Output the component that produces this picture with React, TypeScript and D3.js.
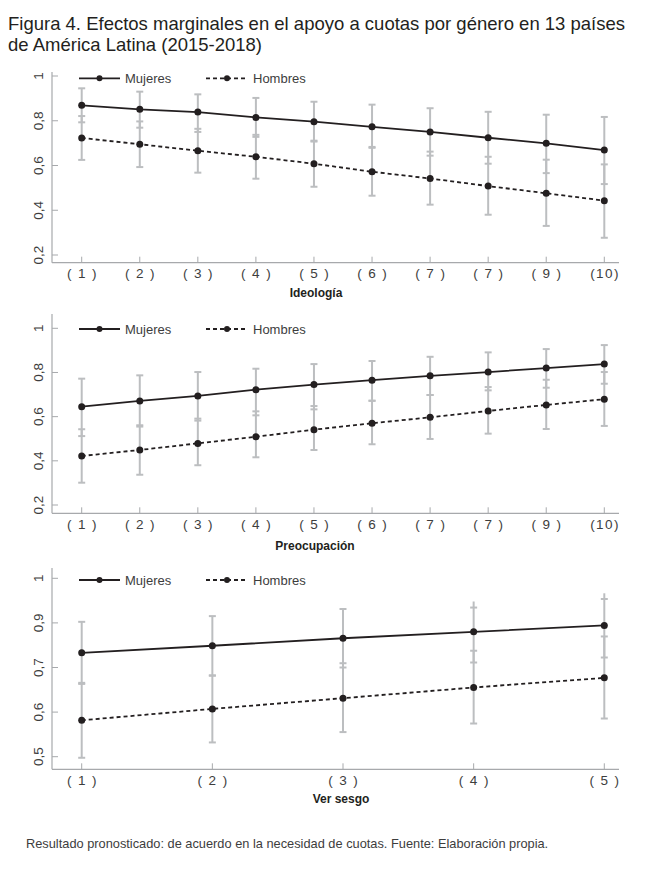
import React from "react";
import * as d3 from "d3";

// ---------- DATA ----------
const ideologiaLabels = ["( 1 )", "( 2 )", "( 3 )", "( 4 )", "( 5 )", "( 6 )", "( 7 )", "( 7 )", "( 9 )", "(10)"];
const ideologiaMujeres = [0.869, 0.851, 0.839, 0.815, 0.796, 0.773, 0.75, 0.724, 0.699, 0.669];
const ideologiaMujeresLo = [0.793, 0.769, 0.75, 0.728, 0.707, 0.679, 0.644, 0.608, 0.566, 0.517];
const ideologiaMujeresHi = [0.945, 0.93, 0.918, 0.902, 0.885, 0.872, 0.856, 0.84, 0.827, 0.817];
const ideologiaHombres = [0.723, 0.695, 0.666, 0.639, 0.608, 0.572, 0.542, 0.508, 0.476, 0.443];
const ideologiaHombresLo = [0.625, 0.593, 0.568, 0.541, 0.505, 0.465, 0.425, 0.38, 0.33, 0.277];
const ideologiaHombresHi = [0.821, 0.797, 0.764, 0.737, 0.711, 0.683, 0.662, 0.639, 0.626, 0.605];

const preocLabels = ["( 1 )", "( 2 )", "( 3 )", "( 4 )", "( 5 )", "( 6 )", "( 7 )", "( 7 )", "( 9 )", "(10)"];
const preocMujeres = [0.645, 0.671, 0.694, 0.722, 0.745, 0.765, 0.785, 0.802, 0.82, 0.838];
const preocMujeresLo = [0.512, 0.555, 0.582, 0.606, 0.633, 0.672, 0.698, 0.719, 0.731, 0.749];
const preocMujeresHi = [0.772, 0.787, 0.802, 0.817, 0.838, 0.852, 0.871, 0.891, 0.906, 0.924];
const preocHombres = [0.422, 0.449, 0.479, 0.509, 0.541, 0.57, 0.597, 0.626, 0.653, 0.679];
const preocHombresLo = [0.301, 0.337, 0.38, 0.416, 0.449, 0.475, 0.499, 0.523, 0.544, 0.558];
const preocHombresHi = [0.543, 0.561, 0.591, 0.624, 0.648, 0.672, 0.698, 0.734, 0.767, 0.802];

const sesgoLabels = ["( 1 )", "( 2 )", "( 3 )", "( 4 )", "( 5 )"];
const sesgoMujeres = [0.791, 0.811, 0.832, 0.85, 0.868];
const sesgoMujeresLo = [0.704, 0.728, 0.75, 0.764, 0.778];
const sesgoMujeresHi = [0.878, 0.894, 0.914, 0.935, 0.958];
const sesgoMujeresCapHi = [0.878, 0.894, 0.914, 0.918, 0.942];
const sesgoHombres = [0.602, 0.634, 0.664, 0.694, 0.721];
const sesgoHombresLo = [0.497, 0.54, 0.569, 0.593, 0.607];
const sesgoHombresHi = [0.707, 0.727, 0.762, 0.797, 0.837];

const yTicks12 = [0.2, 0.4, 0.6, 0.8, 1];
const yTickLabels12 = ["0,2", "0,4", "0,6", "0,8", "1"];
const yTicks3 = [0.5, 0.625, 0.75, 0.875, 1];
const yTickLabels3 = ["0,5", "0,6", "0,7", "0,9", "1"];

const titleLines = [
  "Figura 4. Efectos marginales en el apoyo a cuotas por género en 13 países",
  "de América Latina (2015-2018)",
];
const footer = "Resultado pronosticado: de acuerdo en la necesidad de cuotas. Fuente: Elaboración propia.";
const seriesNames = ["Mujeres", "Hombres"];

// ---------- STYLE / LAYOUT ----------
const FONT = "'Liberation Sans', Arial, sans-serif";
const INK = "#231f20";
const AXIS = "#a7a9ac";
const BAR = "#bcbec0";
const TXT = "#3d3d3d";

type Panel = {
  labels: string[];
  m: number[]; mLo: number[]; mHi: number[]; mCap?: number[];
  h: number[]; hLo: number[]; hHi: number[];
  yDomain: [number, number];
  yRange: [number, number];
  ticks: number[]; tickLabels: string[];
  axisY: number; axisTop: number; legendY: number;
  title: string; titleX: number; titleY: number;
};

const panels: Panel[] = [
  {
    labels: ideologiaLabels,
    m: ideologiaMujeres, mLo: ideologiaMujeresLo, mHi: ideologiaMujeresHi,
    h: ideologiaHombres, hLo: ideologiaHombresLo, hHi: ideologiaHombresHi,
    yDomain: [0.2, 1], yRange: [255, 76],
    ticks: yTicks12, tickLabels: yTickLabels12,
    axisY: 262.7, axisTop: 72, legendY: 78.3,
    title: "Ideología", titleX: 316, titleY: 297,
  },
  {
    labels: preocLabels,
    m: preocMujeres, mLo: preocMujeresLo, mHi: preocMujeresHi,
    h: preocHombres, hLo: preocHombresLo, hHi: preocHombresHi,
    yDomain: [0.2, 1], yRange: [505, 328.3],
    ticks: yTicks12, tickLabels: yTickLabels12,
    axisY: 513.3, axisTop: 314, legendY: 329,
    title: "Preocupación", titleX: 315, titleY: 550,
  },
  {
    labels: sesgoLabels,
    m: sesgoMujeres, mLo: sesgoMujeresLo, mHi: sesgoMujeresHi, mCap: sesgoMujeresCapHi,
    h: sesgoHombres, hLo: sesgoHombresLo, hHi: sesgoHombresHi,
    yDomain: [0.5, 1], yRange: [756.7, 578.3],
    ticks: yTicks3, tickLabels: yTickLabels3,
    axisY: 769.3, axisTop: 568, legendY: 580,
    title: "Ver sesgo", titleX: 341, titleY: 803,
  },
];

const X0 = 52;
const X1 = 619;
const XFIRST = 81.7;
const XLAST = 604.3;

function PanelView({ p }: { p: Panel }) {
  const x = d3.scaleLinear().domain([0, p.labels.length - 1]).range([XFIRST, XLAST]);
  const y = d3.scaleLinear().domain(p.yDomain).range(p.yRange);
  const idx = d3.range(p.labels.length);
  const mLine = d3.line<number>().x((_, i) => x(i)).y((v) => y(v))(p.m) || "";
  const hLine = d3.line<number>().x((_, i) => x(i)).y((v) => y(v))(p.h) || "";
  const capW = 3.5;
  const bars = (lo: number[], hi: number[], capHi?: number[]) =>
    idx.map((i) => (
      <g key={i}>
        <line x1={x(i)} x2={x(i)} y1={y(lo[i])} y2={y(hi[i])} stroke={BAR} strokeWidth={2} />
        <line x1={x(i) - capW} x2={x(i) + capW} y1={y(lo[i])} y2={y(lo[i])} stroke={BAR} strokeWidth={2} />
        <line
          x1={x(i) - capW}
          x2={x(i) + capW}
          y1={y(capHi ? capHi[i] : hi[i])}
          y2={y(capHi ? capHi[i] : hi[i])}
          stroke={BAR}
          strokeWidth={2}
        />
      </g>
    ));
  const lx = 79;
  return (
    <g>
      {/* axes */}
      <line x1={X0} x2={X0} y1={p.axisTop} y2={p.axisY} stroke={AXIS} strokeWidth={1.2} />
      <line x1={X0} x2={X1} y1={p.axisY} y2={p.axisY} stroke={AXIS} strokeWidth={1.2} />
      {p.ticks.map((t, k) => (
        <g key={k}>
          <line x1={X0} x2={X0 + 6} y1={y(t)} y2={y(t)} stroke={AXIS} strokeWidth={1} />
          <text
            transform={`translate(${42.5},${y(t)}) rotate(-90)`}
            textAnchor="middle"
            fontFamily={FONT}
            fontSize={13.5}
            fill={TXT}
          >
            {p.tickLabels[k]}
          </text>
        </g>
      ))}
      {idx.map((i) => (
        <g key={i}>
          <line x1={x(i)} x2={x(i)} y1={p.axisY} y2={p.axisY - 6} stroke={AXIS} strokeWidth={1} />
          <text
            x={x(i) + 0.7}
            y={p.axisY + 15.5}
            textAnchor="middle"
            fontFamily={FONT}
            fontSize={13.5}
            letterSpacing={1.4}
            fill={TXT}
          >
            {p.labels[i]}
          </text>
        </g>
      ))}
      <text x={p.titleX} y={p.titleY} textAnchor="middle" fontFamily={FONT} fontSize={12} fontWeight="bold" fill={INK}>
        {p.title}
      </text>
      {/* error bars */}
      {bars(p.hLo, p.hHi)}
      {bars(p.mLo, p.mHi, p.mCap)}
      {/* lines */}
      <path d={mLine} fill="none" stroke={INK} strokeWidth={1.8} />
      <path d={hLine} fill="none" stroke={INK} strokeWidth={1.8} strokeDasharray="4,3" />
      {idx.map((i) => (
        <g key={i}>
          <circle cx={x(i)} cy={y(p.m[i])} r={3.5} fill={INK} />
          <circle cx={x(i)} cy={y(p.h[i])} r={3.5} fill={INK} />
        </g>
      ))}
      {/* legend */}
      <line x1={lx} x2={lx + 41} y1={p.legendY} y2={p.legendY} stroke={INK} strokeWidth={1.8} />
      <circle cx={lx + 20.5} cy={p.legendY} r={3} fill={INK} />
      <text x={lx + 46} y={p.legendY + 4.5} fontFamily={FONT} fontSize={13} fill={TXT}>
        {seriesNames[0]}
      </text>
      <line x1={lx + 127} x2={lx + 168} y1={p.legendY} y2={p.legendY} stroke={INK} strokeWidth={1.8} strokeDasharray="4,3" />
      <circle cx={lx + 148} cy={p.legendY} r={3} fill={INK} />
      <text x={lx + 174} y={p.legendY + 4.5} fontFamily={FONT} fontSize={13} fill={TXT}>
        {seriesNames[1]}
      </text>
    </g>
  );
}

export default function App() {
  return (
    <svg width={650} height={884} style={{ position: "absolute", left: 0, top: 0, background: "#fff" }}>
      <rect width={650} height={884} fill="#fff" />
      {titleLines.map((t, i) => (
        <text key={i} x={8} y={30 + i * 20.5} fontFamily={FONT} fontSize={18.5} fill={INK}>
          {t}
        </text>
      ))}
      {panels.map((p, i) => (
        <PanelView key={i} p={p} />
      ))}
      <text x={26} y={848} fontFamily={FONT} fontSize={12.8} fill={TXT}>
        {footer}
      </text>
    </svg>
  );
}
